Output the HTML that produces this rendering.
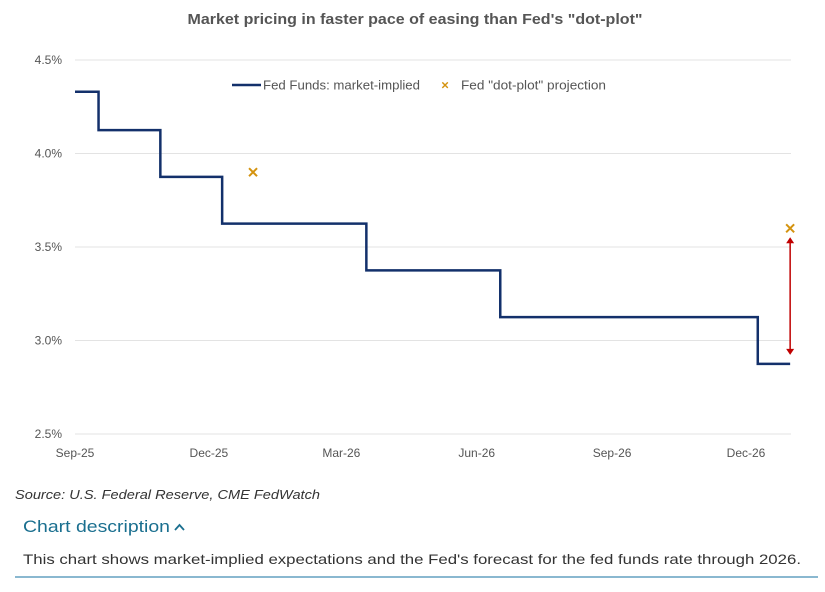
<!DOCTYPE html>
<html><head><meta charset="utf-8"><style>
body{margin:0;background:#fff;width:825px;height:587px;overflow:hidden;font-family:"Liberation Sans",sans-serif;}
svg text{font-family:"Liberation Sans",sans-serif;}
</style></head><body>
<svg id="c" width="825" height="587">
<text x="415" y="24" text-anchor="middle" font-size="15" font-weight="bold" fill="#555" textLength="455" lengthAdjust="spacingAndGlyphs">Market pricing in faster pace of easing than Fed's "dot-plot"</text>
<g id="grid"></g><g id="marks"></g>
<g>
<line x1="232" y1="85" x2="261" y2="85" stroke="#13306b" stroke-width="2.5"/>
<text x="263" y="89.5" font-size="12.5" fill="#555" textLength="157" lengthAdjust="spacingAndGlyphs">Fed Funds: market-implied</text>
<text x="445" y="89.5" font-size="13" fill="#d4930f" text-anchor="middle" font-weight="bold">×</text>
<text x="461" y="89.5" font-size="12.5" fill="#555" textLength="145" lengthAdjust="spacingAndGlyphs">Fed "dot-plot" projection</text>
</g>
<text x="15" y="499" font-size="13" font-style="italic" fill="#333" textLength="305" lengthAdjust="spacingAndGlyphs">Source: U.S. Federal Reserve, CME FedWatch</text>
<text x="23" y="532" font-size="17" fill="#1a6f8f" textLength="147" lengthAdjust="spacingAndGlyphs">Chart description</text>
<path d="M175 530 L179.5 525 L184 530" fill="none" stroke="#1a6f8f" stroke-width="1.8"/>
<text x="23" y="564" font-size="14" fill="#333" textLength="778" lengthAdjust="spacingAndGlyphs">This chart shows market-implied expectations and the Fed's forecast for the fed funds rate through 2026.</text>
<rect x="15" y="576" width="803" height="2" fill="#8ab8d0"/>
</svg>
<script>
const yTicks=[2.5,3.0,3.5,4.0,4.5];
const xTickLabels=["Sep-25","Dec-25","Mar-26","Jun-26","Sep-26","Dec-26"];
const xTickDates=["2025-09-01","2025-12-01","2026-03-01","2026-06-01","2026-09-01","2026-12-01"];
const stepDates=["2025-09-01","2025-09-17","2025-10-29","2025-12-10","2026-03-18","2026-06-17","2026-12-09","2026-12-31"];
const stepRates=[4.33,4.125,3.875,3.625,3.375,3.125,2.875,2.875];
const dotDates=["2025-12-31","2026-12-31"];
const dotRates=[3.9,3.6];
const ns="http://www.w3.org/2000/svg";
const t0=Date.parse("2025-09-01"),pxPerDay=671/456;
function xs(d){return 75+(Date.parse(d)-t0)/864e5*pxPerDay;}
function ys(v){return 434-(v-2.5)*187;}
function mk(tag,a,p){const e=document.createElementNS(ns,tag);for(const k in a)e.setAttribute(k,a[k]);p.appendChild(e);return e;}
const g=document.getElementById('grid'),m=document.getElementById('marks');
yTicks.forEach((v,i)=>{
 const l=mk('line',{x1:75,x2:791,y1:ys(v),y2:ys(v),stroke:'#e3e3e3','stroke-width':1},g);
 
 
 const t=mk('text',{x:62,y:ys(v)+4,'text-anchor':'end','font-size':12,fill:'#555'},g);
 t.textContent=v.toFixed(1)+'%';
 
 
});
xTickLabels.forEach((s,i)=>{
 const t=mk('text',{x:xs(xTickDates[i]),y:457,'text-anchor':'middle','font-size':12,fill:'#555'},g);
 t.textContent=s;
 
 
});
let d='';
for(let i=0;i<stepDates.length;i++){
 const x=xs(stepDates[i]),y=ys(stepRates[i]);
 if(i===0)d+='M'+x+' '+y;else d+=' H'+x+' V'+y;
}
const p=mk('path',{d:d,fill:'none',stroke:'#13306b','stroke-width':2.5},m);


dotDates.forEach((dd,i)=>{
 const x=xs(dd),y=ys(dotRates[i]);
 const e=mk('path',{d:`M${x-4} ${y-4}L${x+4} ${y+4}M${x+4} ${y-4}L${x-4} ${y+4}`,stroke:'#d4930f','stroke-width':2},m);
 
 
});
const ax=xs(dotDates[1]),ay1=ys(dotRates[1])+9,ay2=ys(stepRates[stepRates.length-1])-9;
const a=mk('g',{},m);


mk('line',{x1:ax,x2:ax,y1:ay1+4,y2:ay2-4,stroke:'#c00000','stroke-width':1.5},a);
mk('path',{d:`M${ax-4} ${ay1+6}L${ax} ${ay1}L${ax+4} ${ay1+6}Z`,fill:'#c00000'},a);
mk('path',{d:`M${ax-4} ${ay2-6}L${ax} ${ay2}L${ax+4} ${ay2-6}Z`,fill:'#c00000'},a);
</script>
</body></html>
